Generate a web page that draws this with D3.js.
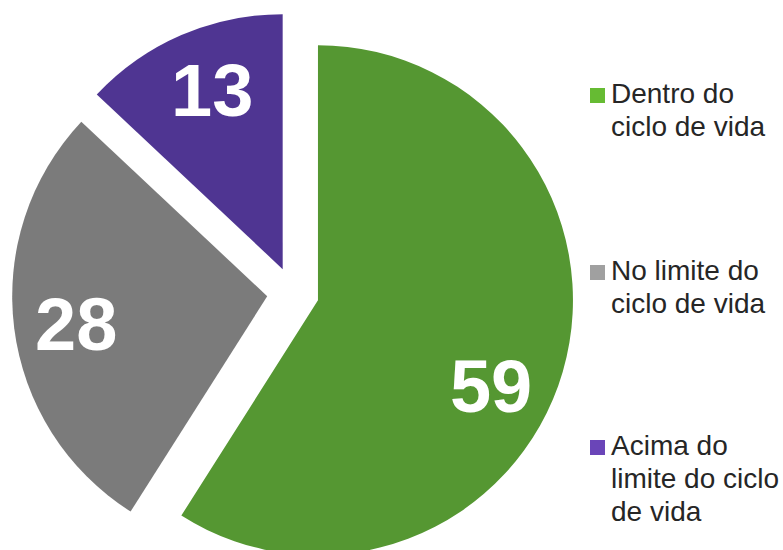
<!DOCTYPE html>
<html>
<head>
<meta charset="utf-8">
<script src="https://cdn.jsdelivr.net/npm/d3@7"></script>
<style>
  body { margin: 0; background: #fff; }
  svg { display: block; font-family: Arial, "Liberation Sans", sans-serif; }
</style>
</head>
<body>
<script>
// data
const categories = ["Dentro do ciclo de vida", "No limite do ciclo de vida", "Acima do limite do ciclo de vida"];
const values = [59, 28, 13];
const sliceColors = ["#559732", "#7b7b7b", "#4f3592"];
const legendColors = ["#66bb33", "#a0a0a0", "#6a45b8"];
const labelNudge = [10, -1, 2]; // degrees, to follow the original label placement

const width = 783, height = 550;
const cx = 293, cy = 293, radius = 255, explode = 26, labelR = 193;

const svg = d3.select("body").append("svg")
  .attr("width", width)
  .attr("height", height);

const pie = d3.pie().sort(null).value(d => d)(values);
const arc = d3.arc().innerRadius(0).outerRadius(radius);

const slices = svg.append("g")
  .attr("transform", `translate(${cx}, ${cy})`)
  .selectAll("g")
  .data(pie)
  .enter().append("g")
  .attr("transform", d => {
    const a = (d.startAngle + d.endAngle) / 2;
    return `translate(${explode * Math.sin(a)}, ${-explode * Math.cos(a)})`;
  });

slices.append("path")
  .attr("d", arc)
  .attr("fill", (d, i) => sliceColors[i]);

slices.append("text")
  .attr("x", (d, i) => labelR * Math.sin((d.startAngle + d.endAngle) / 2 + labelNudge[i] * Math.PI / 180))
  .attr("y", (d, i) => -labelR * Math.cos((d.startAngle + d.endAngle) / 2 + labelNudge[i] * Math.PI / 180))
  .attr("dy", "0.36em")
  .attr("text-anchor", "middle")
  .style("fill", "#fff")
  .style("font-weight", "bold")
  .style("font-size", "74px")
  .text(d => d.data);

// legend
const legendY = d3.scaleOrdinal().domain(categories).range([103, 280, 455]);
const legend = svg.append("g")
  .selectAll("g")
  .data(categories)
  .enter().append("g")
  .attr("transform", d => `translate(590, ${legendY(d)})`);

legend.append("rect")
  .attr("x", 0)
  .attr("y", -15)
  .attr("width", 15)
  .attr("height", 15)
  .attr("fill", (d, i) => legendColors[i]);

legend.each(function(d) {
  const t = d3.select(this).append("text")
    .attr("x", 21)
    .style("font-size", "28px")
    .style("fill", "#262626");
  const words = d.split(" ");
  let line = [], lineNo = 0;
  let tspan = t.append("tspan").attr("x", 21).attr("y", 0);
  words.forEach(w => {
    line.push(w);
    tspan.text(line.join(" "));
    if (tspan.node().getComputedTextLength() > 172 && line.length > 1) {
      line.pop();
      tspan.text(line.join(" "));
      line = [w];
      lineNo++;
      tspan = t.append("tspan").attr("x", 21).attr("y", lineNo * 33).text(w);
    }
  });
});
</script>
</body>
</html>
